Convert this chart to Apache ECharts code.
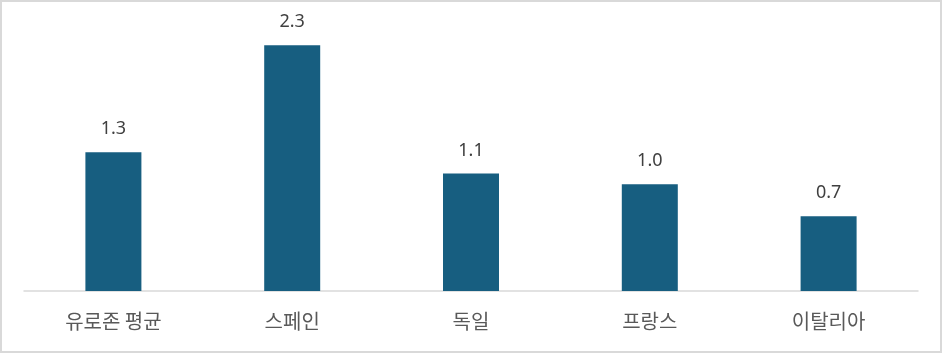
<!DOCTYPE html>
<html>
<head>
<meta charset="utf-8">
<script src="https://cdn.jsdelivr.net/npm/echarts@6/dist/echarts.min.js"></script>
<style>
html,body{margin:0;padding:0;background:#fff;}
#wrap{width:942px;height:353px;box-sizing:border-box;border:2px solid #d9d9d9;}
#chart{width:938px;height:349px;}
</style>
</head>
<body>
<div id="wrap"><div id="chart"></div></div>
<script>
const categories = ['유로존 평균', '스페인', '독일', '프랑스', '이탈리아'];
const values = [1.3, 2.3, 1.1, 1.0, 0.7];

const chart = echarts.init(document.getElementById('chart'));
chart.setOption({
  animation: false,
  grid: { left: 22, right: 22, top: 22, bottom: 60 },
  xAxis: {
    type: 'category',
    data: categories,
    axisLine: { lineStyle: { color: '#d9d9d9', width: 1.5 } },
    axisTick: { show: false },
    axisLabel: { color: '#595959', fontSize: 20, margin: 20, fontFamily: '"Noto Sans CJK KR", "Noto Sans", sans-serif' }
  },
  yAxis: {
    type: 'value', min: 0, max: 2.5,
    show: false, splitLine: { show: false }
  },
  series: [{
    type: 'bar',
    data: values,
    barWidth: 56,
    itemStyle: { color: '#175E80' },
    label: {
      show: true, position: 'top', distance: 14,
      formatter: p => p.value.toFixed(1),
      color: '#404040', fontSize: 18, fontFamily: '"Noto Sans", sans-serif'
    }
  }]
});
</script>
</body>
</html>
